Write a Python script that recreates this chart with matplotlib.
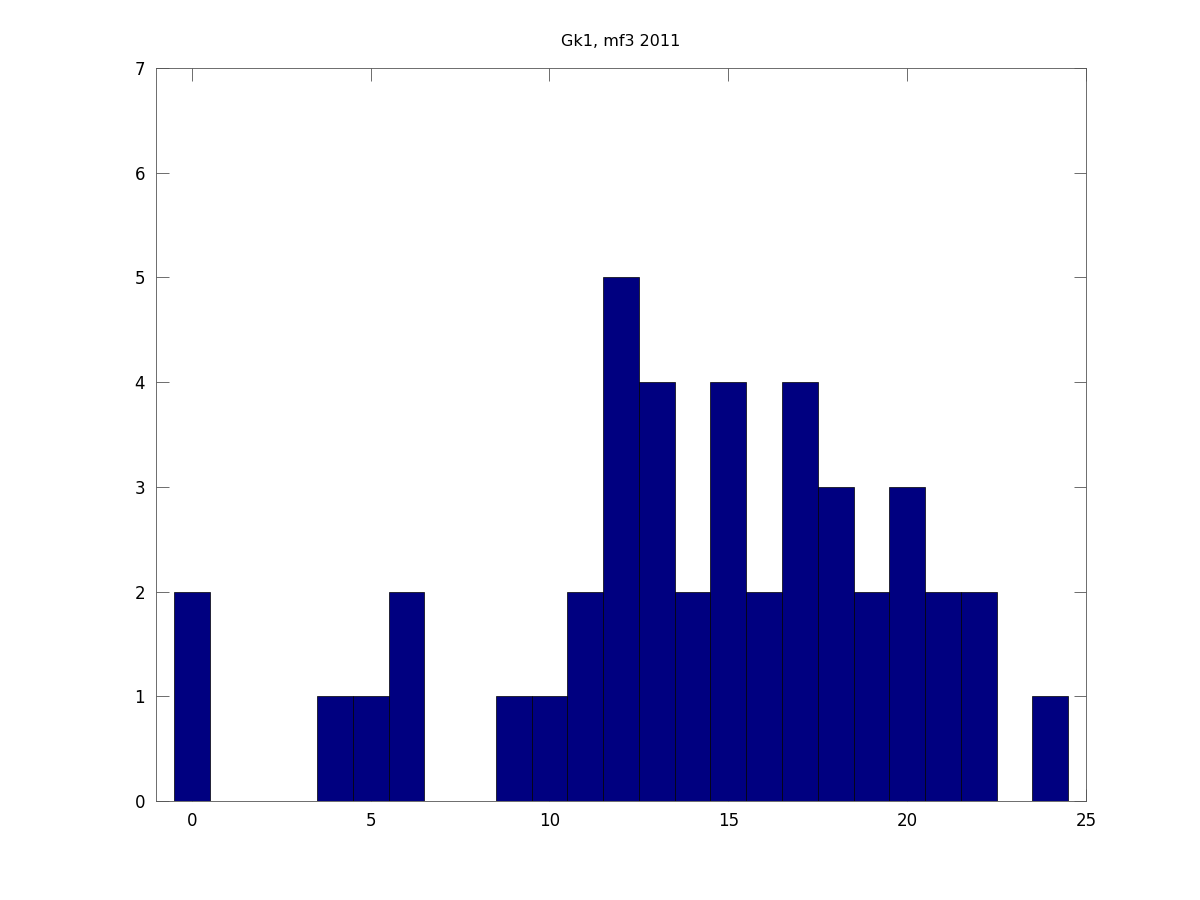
import matplotlib
matplotlib.use("Agg")
import matplotlib.pyplot as plt

# histogram values
bins = [0, 4, 5, 6, 9, 10, 11, 12, 13, 14, 15, 16, 17, 18, 19, 20, 21, 22, 24]
counts = [2, 1, 1, 2, 1, 1, 2, 5, 4, 2, 4, 2, 4, 3, 2, 3, 2, 2, 1]
xticks = [0, 5, 10, 15, 20, 25]
yticks = [0, 1, 2, 3, 4, 5, 6, 7]

fig = plt.figure(figsize=(12, 9), dpi=100)
ax = fig.add_axes([0.13, 0.11, 0.775, 0.8144])

ax.bar(bins, counts, width=1.0, color='#000080', edgecolor='black',
       linewidth=0.5, zorder=3)

ax.set_xlim(-1, 25)
ax.set_ylim(0, 7)
ax.set_xticks(xticks)
ax.set_yticks(yticks)
ax.tick_params(direction='in', length=9, width=0.6, top=True, right=True,
               labelsize=12, pad=8, color='#555555')
for s in ax.spines.values():
    s.set_linewidth(0.6)
    s.set_color('#555555')

ax.set_title('Gk1, mf3 2011', fontsize=11.5, pad=16)

fig.savefig('out.png', dpi=100)
